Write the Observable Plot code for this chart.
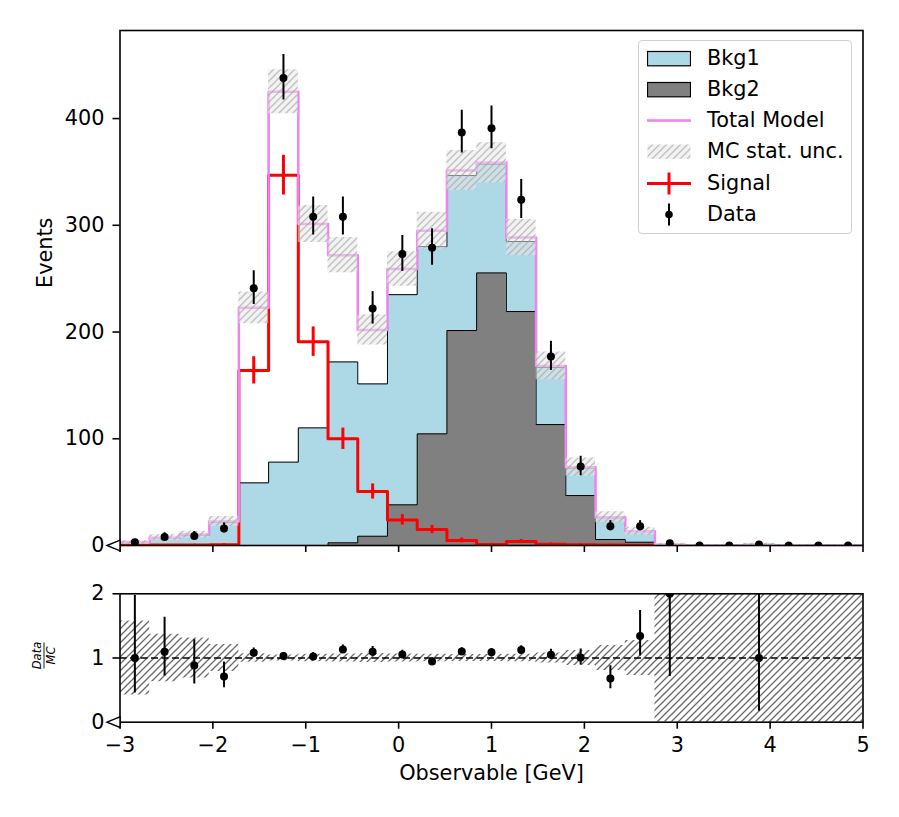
<!DOCTYPE html>
<html>
<head>
<meta charset="utf-8">
<script src="https://cdn.jsdelivr.net/npm/d3@7"></script>
<script src="https://cdn.jsdelivr.net/npm/@observablehq/plot@0.6"></script>
<style>
  body { margin: 0; background: #fff; }
  #wrap { position: relative; width: 899px; height: 817px; font-family: "DejaVu Sans", sans-serif; overflow: hidden; }
  #wrap svg { display: block; }
  .legend { position: absolute; left: 638px; top: 40px; width: 214px; height: 194px; box-sizing: border-box;
            border: 1.4px solid #d0d0d0; border-radius: 4px; background: rgba(255,255,255,0.8); }
  .legend .row { position: absolute; left: 0; height: 31px; width: 100%; }
  .legend .row svg { position: absolute; left: 8px; top: 0; }
  .legend .row span { position: absolute; left: 68px; top: 2px; font-size: 20.8px; line-height: 27px; color: #000; white-space: nowrap; }
</style>
</head>
<body>
<div id="wrap"></div>
<script>
// ---------------- data ----------------
const binEdges = [-3, -2.68, -2.36, -2.04, -1.72, -1.4, -1.08, -0.76, -0.44, -0.12, 0.2, 0.52, 0.84,
                  1.16, 1.48, 1.8, 2.12, 2.44, 2.76, 3.08, 3.4, 3.72, 4.04, 4.36, 4.68, 5];
const bkg1 = [2.7, 6.9, 9.7, 21.7, 58.7, 78.1, 110.2, 169.5, 142.7, 196.9, 175.4, 145.2, 102.1,
              65.6, 53.7, 25.8, 20.4, 10.0, 0.6, 0.35, 0.3, 1.0, 0.3, 0.2, 0.2];
const bkg2 = [0, 0, 0, 0, 0, 0, 0, 2.5, 8.7, 38.1, 104.6, 201.4, 255.4,
              219.2, 113.3, 46.8, 5.6, 3.1, 0.4, 0, 0, 0, 0, 0, 0];
const signal = [0.3, 0.4, 0.5, 0.8, 164, 347, 191, 100, 50.6, 24, 15, 4.7, 1.0,
                3.7, 1.2, 0.8, 0.5, 0.3, 0, 0, 0, 0, 0, 0, 0];
const signalErr = [0.55, 0.63, 0.71, 0.89, 12.8, 18.6, 13.8, 10.0, 7.1, 4.9, 3.9, 2.2, 1.0,
                   1.9, 1.1, 0.9, 0.7, 0.55, 0, 0, 0, 0, 0, 0, 0];
const mcStatUnc = [1.73, 2.70, 3.19, 4.74, 14.9, 20.6, 17.4, 16.5, 14.2, 16.1, 17.2, 18.7, 18.9,
                   17.0, 13.0, 8.6, 5.15, 3.66, 1.0, 0.6, 0.55, 1.0, 0.55, 0.45, 0.45];
const dataCounts = [3, 8, 9, 16, 241, 438, 308, 308, 222, 273, 279, 387, 391,
                    324, 177, 74, 18, 18, 2, 0, 0, 1, 0, 0, 0];
const dataLow = [1.37, 5.24, 6.06, 12.05, 225.8, 417.4, 290.8, 290.8, 207.4, 256.8, 262.6, 367.7, 371.6,
                 306.3, 164.0, 65.4, 13.8, 13.8, 0.71, 0, 0, 0.17, 0, 0, 0];
const dataHigh = [5.92, 11.94, 13.10, 21.08, 257.5, 459.9, 326.6, 326.6, 237.9, 290.5, 296.7, 407.7, 411.8,
                  343.0, 191.3, 83.6, 23.3, 23.3, 4.64, 1.84, 1.84, 3.30, 1.84, 1.84, 1.84];

const xTicks = [-3, -2, -1, 0, 1, 2, 3, 4, 5];
const yTicksMain = [0, 100, 200, 300, 400];
const yTicksRatio = [0, 1, 2];
const legendLabels = ["Bkg1", "Bkg2", "Total Model", "MC stat. unc.", "Signal", "Data"];

// ---------------- derived tables ----------------
const nBins = bkg1.length;
const bins = d3.range(nBins).map(i => {
  const total = bkg1[i] + bkg2[i] + signal[i];
  return {
    x1: binEdges[i], x2: binEdges[i + 1], xc: (binEdges[i] + binEdges[i + 1]) / 2,
    bkg1: bkg1[i], bkg2: bkg2[i], bkg: bkg1[i] + bkg2[i], sig: signal[i], sigErr: signalErr[i],
    total, unc: mcStatUnc[i], data: dataCounts[i], dlo: dataLow[i], dhi: dataHigh[i]
  };
});
// rows at every bin edge (last edge repeats the last bin) for step curves
const stepRows = binEdges.map((x, i) => ({...bins[Math.min(i, nBins - 1)], x}));
const dataBins = bins.filter(d => d.data > 0);
const sigBins = bins.filter(d => d.sigErr > 0);

// ---------------- layout ----------------
const W = 899, ML = 119.5, MR = 36.5;
const FONT = "20.8px";
const AX = 1.6;
const leftTriangle = {draw(ctx) { ctx.moveTo(-13, 0); ctx.lineTo(0, -5.3); ctx.lineTo(0, 5.3); ctx.closePath(); }};

const hatchDefs = `
<pattern id="hatchLight" patternUnits="userSpaceOnUse" width="7" height="7">
  <rect width="7" height="7" fill="rgba(232,232,232,0.55)"/>
  <path d="M-1,1 l2,-2 M0,7 l7,-7 M6,8 l2,-2" stroke="rgba(160,160,160,0.6)" stroke-width="1.4"/>
</pattern>
<pattern id="hatchDark2" patternUnits="userSpaceOnUse" width="7" height="7">
  <path d="M-1,1 l2,-2 M0,7 l7,-7 M6,8 l2,-2" stroke="#6a6a6a" stroke-width="1.35"/>
</pattern>`;

const style = {background: "white", color: "black", fontFamily: "DejaVu Sans", fontSize: FONT};

const mainPlot = Plot.plot({
  width: W, height: 560, marginLeft: ML, marginRight: MR, marginTop: 30, marginBottom: 15,
  style,
  x: {domain: [-3, 5], label: null},
  y: {domain: [0, 482.5], label: null},
  marks: [
    Plot.areaY(stepRows, {x: "x", y1: 0, y2: "bkg2", curve: "step-after", fill: "#808080"}),
    Plot.areaY(stepRows, {x: "x", y1: "bkg2", y2: "bkg", curve: "step-after", fill: "#add8e6"}),
    Plot.line(stepRows, {x: "x", y: "bkg2", curve: "step-after", stroke: "black", strokeWidth: 1, clip: true}),
    Plot.line(stepRows, {x: "x", y: "bkg", curve: "step-after", stroke: "black", strokeWidth: 1, clip: true}),
    Plot.line(stepRows, {x: "x", y: "sig", curve: "step-after", stroke: "red", strokeWidth: 3, clip: true}),
    Plot.ruleX(sigBins, {x: "xc", y1: d => d.sig - d.sigErr, y2: d => d.sig + d.sigErr, stroke: "red", strokeWidth: 3, clip: true}),
    Plot.line(stepRows, {x: "x", y: "total", curve: "step-after", stroke: "violet", strokeWidth: 2.5, clip: true}),
    Plot.areaY(stepRows, {x: "x", y1: d => d.total - d.unc, y2: d => d.total + d.unc, curve: "step-after", fill: "url(#hatchLight)", clip: true}),
    Plot.ruleX(bins, {x: "xc", y1: "dlo", y2: "dhi", stroke: "black", strokeWidth: 2, clip: true}),
    Plot.dot(bins, {x: "xc", y: "data", r: 4, fill: "black", stroke: "none", clip: true}),
    Plot.frame({stroke: "black", strokeWidth: AX}),
    Plot.axisX({ticks: xTicks, tickSize: 7, tickFormat: () => "", strokeWidth: AX, label: null}),
    Plot.axisY({ticks: yTicksMain, tickSize: 7, tickPadding: 8.5, strokeWidth: AX, label: null}),
    Plot.dot([{x: binEdges[0], y: 0}], {x: "x", y: "y", symbol: leftTriangle, fill: "white", stroke: "black", strokeWidth: 1.4}),
    Plot.text(["Events"], {text: d => d, frameAnchor: "left", rotate: -90, dx: -74.5, fontSize: 20.8})
  ]
});
d3.select(mainPlot).insert("defs", ":first-child").html(hatchDefs);

const ratioTop = 33.3, ratioH = 128.4;
const ratioPlot = Plot.plot({
  width: W, height: 257, marginLeft: ML, marginRight: MR, marginTop: ratioTop, marginBottom: 257 - ratioTop - ratioH,
  style,
  x: {domain: [-3, 5], label: null},
  y: {domain: [0, 2], label: null},
  marks: [
    Plot.areaY(stepRows, {x: "x", y1: d => 1 - d.unc / d.total, y2: d => 1 + d.unc / d.total, curve: "step-after", fill: "url(#hatchDark2)", clip: true}),
    Plot.ruleY([1], {stroke: "black", strokeWidth: 1.5, strokeDasharray: "7,3.5"}),
    Plot.ruleX(dataBins, {x: "xc", y1: d => d.dlo / d.total, y2: d => d.dhi / d.total, stroke: "black", strokeWidth: 2, clip: true}),
    Plot.dot(dataBins, {x: "xc", y: d => d.data / d.total, r: 4, fill: "black", stroke: "none", clip: true}),
    Plot.frame({stroke: "black", strokeWidth: AX}),
    Plot.axisX({ticks: xTicks, tickSize: 7, tickPadding: 8, strokeWidth: AX, label: null}),
    Plot.axisY({ticks: yTicksRatio, tickFormat: "d", tickSize: 7, tickPadding: 8.5, strokeWidth: AX, label: null}),
    Plot.dot([{x: binEdges[0], y: 0}], {x: "x", y: "y", symbol: leftTriangle, fill: "white", stroke: "black", strokeWidth: 1.4}),
    Plot.text(["Observable [GeV]"], {text: d => d, frameAnchor: "bottom", dy: 57.5, fontSize: 20.8})
  ]
});
d3.select(ratioPlot).insert("defs", ":first-child").html(hatchDefs);
// y label as a fraction Data / MC
const frac = d3.select(ratioPlot).append("g")
  .attr("transform", `translate(44, ${ratioTop + ratioH / 2 - 2}) rotate(-90)`)
  .attr("font-style", "italic").attr("font-size", "11.5px").attr("font-family", "DejaVu Sans");
frac.append("text").attr("y", -3).attr("text-anchor", "middle").text("Data");
frac.append("text").attr("y", 11).attr("text-anchor", "middle").text("MC");
frac.append("line").attr("x1", -13).attr("x2", 13).attr("y1", 0).attr("y2", 0).attr("stroke", "black").attr("stroke-width", 0.9);

const wrap = document.getElementById("wrap");
wrap.appendChild(mainPlot);
wrap.appendChild(ratioPlot);

// ---------------- legend ----------------
const legend = document.createElement("div");
legend.className = "legend";
const swatches = [
  `<rect x="0.5" y="8.5" width="43" height="14.3" fill="#add8e6" stroke="black" stroke-width="1.2"/>`,
  `<rect x="0.5" y="8.5" width="43" height="14.3" fill="#808080" stroke="black" stroke-width="1.2"/>`,
  `<line x1="0" x2="44" y1="15.5" y2="15.5" stroke="violet" stroke-width="2.5"/>`,
  `<defs><pattern id="hatchLeg" patternUnits="userSpaceOnUse" width="7" height="7">
     <rect width="7" height="7" fill="rgba(232,232,232,0.55)"/>
     <path d="M-1,1 l2,-2 M0,7 l7,-7 M6,8 l2,-2" stroke="rgba(160,160,160,0.6)" stroke-width="1.4"/></pattern></defs>
   <rect x="0.5" y="8.5" width="43" height="14.3" fill="url(#hatchLeg)"/>`,
  `<line x1="0" x2="44" y1="15.5" y2="15.5" stroke="red" stroke-width="3"/><line x1="22" x2="22" y1="4.5" y2="26.5" stroke="red" stroke-width="3"/>`,
  `<line x1="22" x2="22" y1="4.5" y2="26.5" stroke="black" stroke-width="2"/><circle cx="22" cy="15.5" r="3.8" fill="black"/>`
];
legendLabels.forEach((label, i) => {
  const row = document.createElement("div");
  row.className = "row";
  row.style.top = (1.5 + i * 31.3) + "px";
  row.innerHTML = `<svg width="44" height="31">${swatches[i]}</svg><span>${label}</span>`;
  legend.appendChild(row);
});
wrap.appendChild(legend);
</script>
</body>
</html>
